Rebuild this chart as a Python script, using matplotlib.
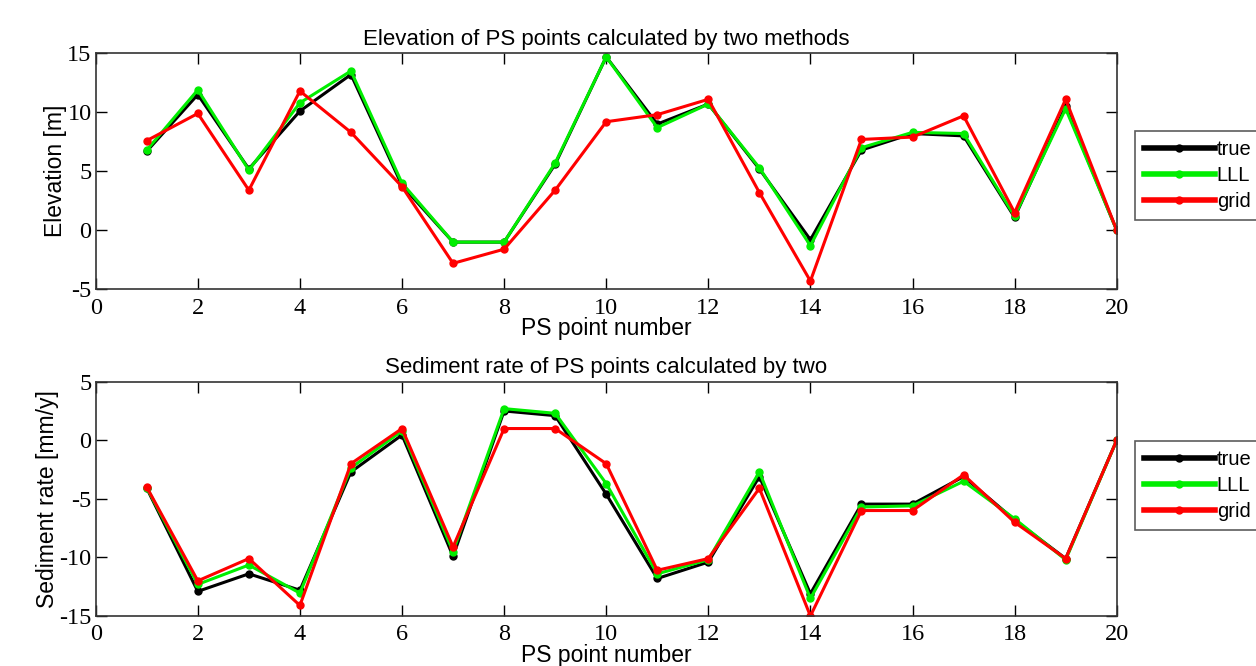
import numpy as np
from matplotlib import pyplot as plt

plt.rcParams['axes.unicode_minus'] = False

#--------------------------------------------------------------------------------------------
ps_number = np.arange(1, 21)

elev_true = [6.7, 11.5, 5.2, 10.1, 13.2, 3.8, -1.0, -1.0, 5.6, 14.7,
             9.0, 10.7, 5.2, -0.8, 6.8, 8.2, 8.0, 1.1, 10.5, 0.0]
elev_lll  = [6.8, 11.9, 5.1, 10.8, 13.5, 4.0, -1.0, -1.0, 5.7, 14.7,
             8.7, 10.7, 5.3, -1.3, 7.0, 8.3, 8.2, 1.2, 10.3, 0.0]
elev_grid = [7.6, 9.9, 3.4, 11.8, 8.3, 3.7, -2.8, -1.6, 3.4, 9.2,
             9.8, 11.1, 3.2, -4.3, 7.7, 7.9, 9.7, 1.5, 11.1, 0.0]

rate_true = [-4.1, -12.9, -11.4, -12.8, -2.7, 0.45, -9.9, 2.5, 2.1, -4.6,
             -11.8, -10.4, -3.1, -13.1, -5.45, -5.45, -3.1, -6.8, -10.1, 0.0]
rate_lll  = [-4.05, -12.3, -10.65, -13.05, -2.35, 0.8, -9.5, 2.7, 2.3, -3.7,
             -11.4, -10.2, -2.7, -13.5, -5.7, -5.6, -3.5, -6.7, -10.2, 0.0]
rate_grid = [-4.0, -12.0, -10.1, -14.1, -2.0, 1.0, -9.1, 1.0, 1.0, -2.0,
             -11.1, -10.1, -4.1, -15.0, -6.0, -6.0, -2.95, -7.0, -10.1, 0.0]

labels = ['true', 'LLL', 'grid']
colors = ['#000000', '#00ee00', '#ff0000']

serif = ['Liberation Serif', 'DejaVu Serif']
sans = ['Liberation Sans', 'DejaVu Sans']

#--------------------------------------------------------------------------------------------
def draw(ax, series, ylim, yticks, title, ylabel):
  for y, lab, c in zip(series, labels, colors):
    ax.plot(ps_number, y, '-o', c=c, lw=2.2, ms=5, label=lab)
  ax.set_xlim(0, 20)
  ax.set_ylim(*ylim)
  ax.set_xticks(range(0, 21, 2))
  ax.set_yticks(yticks)
  ax.tick_params(direction='in', top=True, right=True, length=8, width=1,
                 labelsize=17.5)
  ax.tick_params(axis='x', pad=6)
  ax.tick_params(axis='y', pad=3)
  for t in ax.get_xticklabels() + ax.get_yticklabels():
    t.set_family(serif)
  for s in ax.spines.values():
    s.set_linewidth(1.2)
    s.set_color('#333333')
  ax.set_title(title, family=sans, fontsize=16, pad=6)
  ax.set_ylabel(ylabel, family=sans, fontsize=16.5, labelpad=0)
  ax.set_xlabel('PS point number', family=sans, fontsize=16.5, labelpad=-1)
  leg = ax.legend(loc='center left', handlelength=3.5, handletextpad=0.1,
                  borderpad=0.45, labelspacing=0.35, fancybox=False,
                  borderaxespad=0, prop={'family': sans, 'size': 14.5})
  for h in leg.get_lines():
    h.set_linewidth(4)
  leg.get_frame().set_edgecolor('#333333')
  leg.get_frame().set_linewidth(1.2)
  return leg

fig = plt.figure(figsize=(12.56, 6.66), dpi=100)
ax1 = fig.add_axes([0.0762, 0.5656, 0.8129, 0.3544])
ax2 = fig.add_axes([0.0762, 0.0751, 0.8129, 0.3518])

leg1 = draw(ax1, [elev_true, elev_lll, elev_grid], (-5, 15), range(-5, 16, 5),
            'Elevation of PS points calculated by two methods', 'Elevation [m]')
leg1.set_bbox_to_anchor((1.018, 0.482))
leg2 = draw(ax2, [rate_true, rate_lll, rate_grid], (-15, 5), range(-15, 6, 5),
            'Sediment rate of PS points calculated by two', 'Sediment rate [mm/y]')
leg2.set_bbox_to_anchor((1.018, 0.557))

plt.savefig('out.png', dpi=100)
